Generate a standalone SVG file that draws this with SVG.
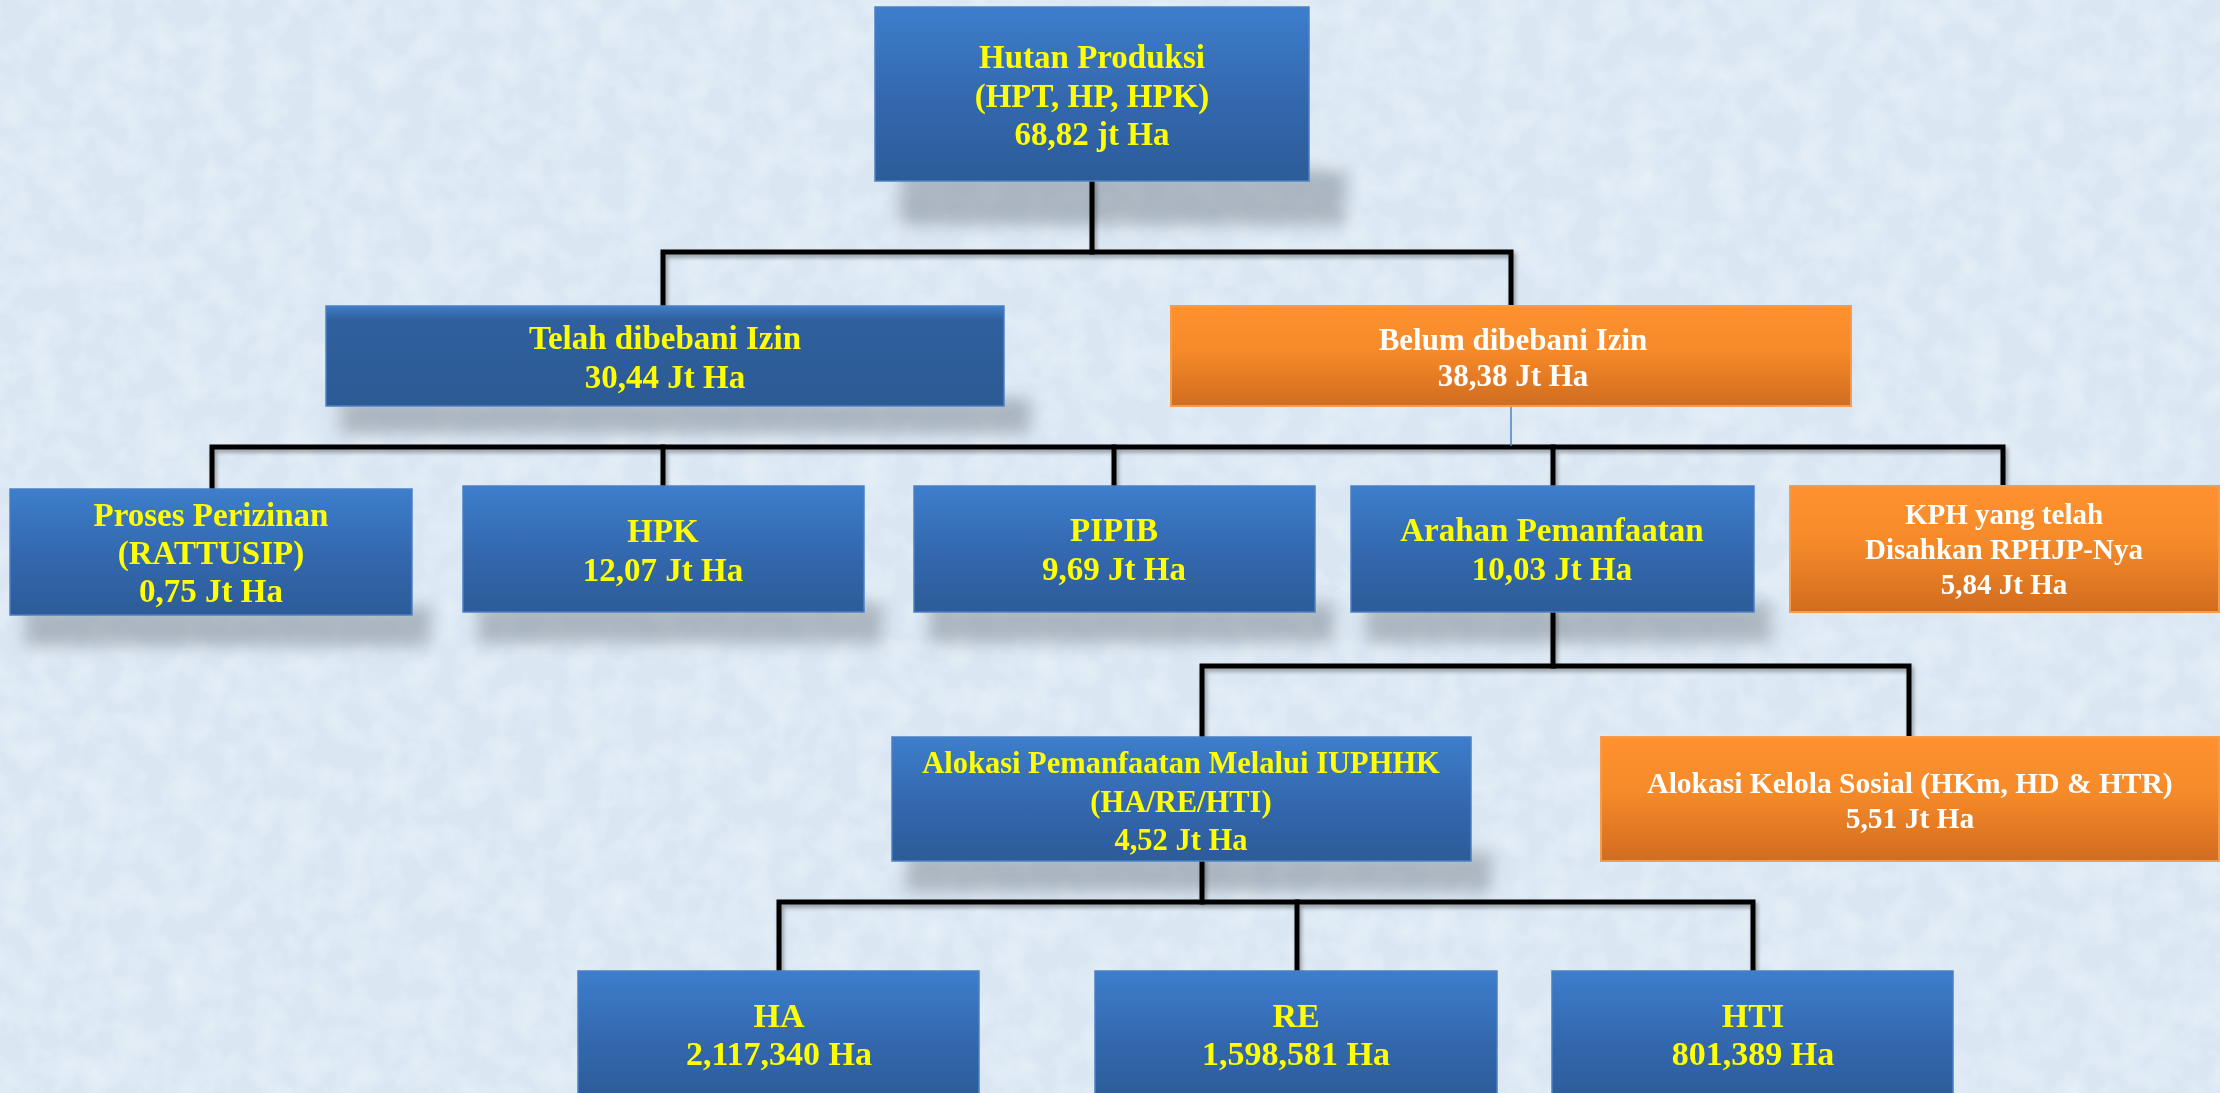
<svg xmlns="http://www.w3.org/2000/svg" width="2220" height="1093" viewBox="0 0 2220 1093">
<defs>
<linearGradient id="gBlue" x1="0" y1="0" x2="0" y2="1">
<stop offset="0" stop-color="#3D7ECC"/>
<stop offset="0.5" stop-color="#3469B0"/>
<stop offset="1" stop-color="#2C5C98"/>
</linearGradient>
<linearGradient id="gBlueDark" x1="0" y1="0" x2="0" y2="1">
<stop offset="0" stop-color="#3F7DC8"/>
<stop offset="0.14" stop-color="#2F609E"/>
<stop offset="1" stop-color="#2C5A94"/>
</linearGradient>
<linearGradient id="gOrange" x1="0" y1="0" x2="0" y2="1">
<stop offset="0" stop-color="#FF922E"/>
<stop offset="0.45" stop-color="#F68A29"/>
<stop offset="1" stop-color="#D16C1F"/>
</linearGradient>
<filter id="blur" x="-10%" y="-30%" width="120%" height="160%">
<feGaussianBlur stdDeviation="8"/>
</filter>
<filter id="lineShadow" x="-5%" y="-20%" width="110%" height="140%">
<feGaussianBlur in="SourceAlpha" stdDeviation="2"/>
<feOffset dx="2" dy="3" result="o"/>
<feComponentTransfer><feFuncA type="linear" slope="0.35"/></feComponentTransfer>
<feMerge><feMergeNode/><feMergeNode in="SourceGraphic"/></feMerge>
</filter>
<filter id="tex" x="0" y="0" width="100%" height="100%">
<feTurbulence type="fractalNoise" baseFrequency="0.035" numOctaves="3" seed="4"/>
<feColorMatrix type="matrix" values="0 0 0 0 1  0 0 0 0 1  0 0 0 0 1  0 0 0 1.2 -0.45"/>
</filter>
</defs>
<style>
.box-blue{fill:url(#gBlue);stroke:#4B80C2;stroke-width:1.5}
.box-dark{fill:url(#gBlueDark);stroke:#4B80C2;stroke-width:1.5}
.box-orange{fill:url(#gOrange);stroke:#F79A4A;stroke-width:2}
.t{font-family:"Liberation Serif","Times New Roman",serif;font-weight:bold;text-anchor:middle}
.ty{fill:#FFFF00}
.tw{fill:#FFFFFF}
.conn{fill:none;stroke:#000;stroke-width:5;stroke-linejoin:miter;stroke-linecap:square}
.thin{fill:none;stroke:#4F81BD;stroke-width:1.5}
.sh{fill:#7A838F;opacity:0.5}
</style>

<!-- background -->
<rect x="0" y="0" width="2220" height="1093" fill="#DAE7F3"/>
<rect x="0" y="0" width="2220" height="1093" filter="url(#tex)" opacity="0.55"/>

<!-- shadows (reflection bands below boxes) -->
<g id="shadows" filter="url(#blur)">
<rect class="sh" x="900" y="170" width="445" height="55"/>
<rect class="sh" x="340" y="398" width="690" height="36"/>
<rect class="sh" x="25" y="606" width="405" height="40"/>
<rect class="sh" x="478" y="603" width="405" height="40"/>
<rect class="sh" x="929" y="603" width="405" height="40"/>
<rect class="sh" x="1366" y="603" width="405" height="40"/>
<rect class="sh" x="906" y="852" width="585" height="40"/>
</g>

<!-- connectors -->
<g id="connectors" filter="url(#lineShadow)">
<path class="conn" d="M1092,181 V252"/>
<path class="conn" d="M663,306 V252 H1511 V306"/>
<path class="conn" d="M212,489 V447 H2003 V486"/>
<path class="conn" d="M663,447 V486"/>
<path class="conn" d="M1114,447 V486"/>
<path class="conn" d="M1553,447 V486"/>
<path class="conn" d="M1553,612 V666"/>
<path class="conn" d="M1202,737 V666 H1909 V737"/>
<path class="conn" d="M1202,861 V902"/>
<path class="conn" d="M779,971 V902 H1753 V971"/>
<path class="conn" d="M1297,902 V971"/>
</g>
<g id="connector-thin">
<path class="thin" d="M1511,406 V446"/>
</g>

<!-- nodes -->
<g id="node-hutan-produksi">
<rect class="box-blue" x="875" y="7" width="434" height="174"/>
<text class="t ty" font-size="33" x="1092" y="68">Hutan Produksi</text>
<text class="t ty" font-size="33" x="1092" y="107">(HPT, HP, HPK)</text>
<text class="t ty" font-size="33" x="1092" y="145">68,82 jt Ha</text>
</g>
<g id="node-telah">
<rect class="box-dark" x="326" y="306" width="678" height="100"/>
<text class="t ty" font-size="33" x="665" y="349">Telah dibebani Izin</text>
<text class="t ty" font-size="33" x="665" y="388">30,44 Jt Ha</text>
</g>
<g id="node-belum">
<rect class="box-orange" x="1171" y="306" width="680" height="100"/>
<text class="t tw" font-size="31" x="1513" y="350">Belum dibebani Izin</text>
<text class="t tw" font-size="31" x="1513" y="386">38,38 Jt Ha</text>
</g>
<g id="node-proses">
<rect class="box-blue" x="10" y="489" width="402" height="126"/>
<text class="t ty" font-size="33" x="211" y="526">Proses Perizinan</text>
<text class="t ty" font-size="33" x="211" y="564">(RATTUSIP)</text>
<text class="t ty" font-size="33" x="211" y="602">0,75 Jt Ha</text>
</g>
<g id="node-hpk">
<rect class="box-blue" x="463" y="486" width="401" height="126"/>
<text class="t ty" font-size="33" x="663" y="542">HPK</text>
<text class="t ty" font-size="33" x="663" y="581">12,07 Jt Ha</text>
</g>
<g id="node-pipib">
<rect class="box-blue" x="914" y="486" width="401" height="126"/>
<text class="t ty" font-size="33" x="1114" y="541">PIPIB</text>
<text class="t ty" font-size="33" x="1114" y="580">9,69 Jt Ha</text>
</g>
<g id="node-arahan">
<rect class="box-blue" x="1351" y="486" width="403" height="126"/>
<text class="t ty" font-size="33" x="1552" y="541">Arahan Pemanfaatan</text>
<text class="t ty" font-size="33" x="1552" y="580">10,03 Jt Ha</text>
</g>
<g id="node-kph">
<rect class="box-orange" x="1790" y="486" width="429" height="126"/>
<text class="t tw" font-size="29" x="2004" y="524">KPH yang telah</text>
<text class="t tw" font-size="29" x="2004" y="559">Disahkan RPHJP-Nya</text>
<text class="t tw" font-size="29" x="2004" y="594">5,84 Jt Ha</text>
</g>
<g id="node-iuphhk">
<rect class="box-blue" x="892" y="737" width="579" height="124"/>
<text class="t ty" font-size="30.5" x="1181" y="773">Alokasi Pemanfaatan Melalui IUPHHK</text>
<text class="t ty" font-size="30.5" x="1181" y="812">(HA/RE/HTI)</text>
<text class="t ty" font-size="30.5" x="1181" y="850">4,52 Jt Ha</text>
</g>
<g id="node-kelola">
<rect class="box-orange" x="1601" y="737" width="618" height="124"/>
<text class="t tw" font-size="29.5" x="1910" y="793">Alokasi Kelola Sosial (HKm, HD &amp; HTR)</text>
<text class="t tw" font-size="29.5" x="1910" y="828">5,51 Jt Ha</text>
</g>
<g id="node-ha">
<rect class="box-blue" x="578" y="971" width="401" height="130"/>
<text class="t ty" font-size="34" x="779" y="1027">HA</text>
<text class="t ty" font-size="34" x="779" y="1065">2,117,340 Ha</text>
</g>
<g id="node-re">
<rect class="box-blue" x="1095" y="971" width="402" height="130"/>
<text class="t ty" font-size="34" x="1296" y="1027">RE</text>
<text class="t ty" font-size="34" x="1296" y="1065">1,598,581 Ha</text>
</g>
<g id="node-hti">
<rect class="box-blue" x="1552" y="971" width="401" height="130"/>
<text class="t ty" font-size="34" x="1753" y="1027">HTI</text>
<text class="t ty" font-size="34" x="1753" y="1065">801,389 Ha</text>
</g>
</svg>
